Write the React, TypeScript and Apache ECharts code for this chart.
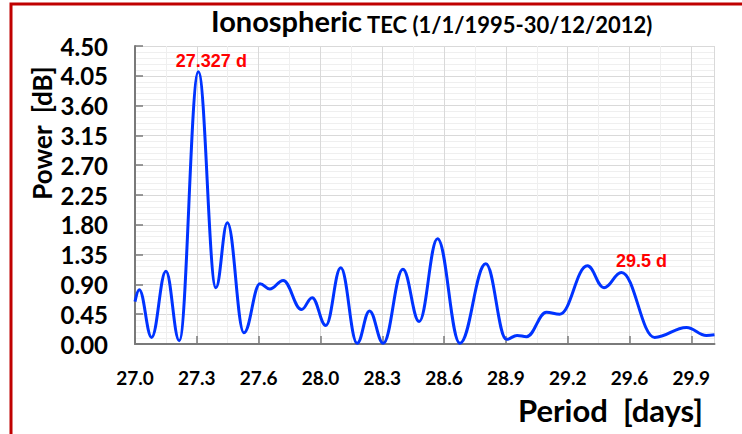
import React, { useEffect, useRef } from "react";
import * as echarts from "echarts";

// Period (days) and power (dB) (extrema + ends)
const periods = [
  27.0, 27.022, 27.086, 27.16, 27.229, 27.328, 27.419, 27.478, 27.564, 27.647,
  27.698, 27.767, 27.862, 27.917, 27.988, 28.065, 28.15, 28.214, 28.285, 28.387,
  28.471, 28.566, 28.682, 28.816, 28.923, 28.978, 29.027, 29.13, 29.199, 29.342,
  29.428, 29.518, 29.69, 29.855, 29.958, 30.0,
];
const power = [
  0.64, 0.82, 0.1, 1.1, 0.05, 4.11, 0.85, 1.83, 0.17, 0.91,
  0.83, 0.96, 0.52, 0.7, 0.28, 1.15, 0.01, 0.5, 0.01, 1.13,
  0.34, 1.59, 0.01, 1.21, 0.07, 0.13, 0.11, 0.48, 0.45, 1.18,
  0.85, 1.08, 0.1, 0.25, 0.13, 0.14,
];
const xMin = 27.0;
const xMax = 30.0;
const xStep = 0.32;
const yMin = 0;
const yMax = 4.5;
const yStep = 0.45;
const annotations = [
  { period: 27.328, power: 4.11, label: "27.327 d" },
  { period: 29.518, power: 1.08, label: "29.5 d" },
];
const titleMain = "Ionospheric";
const titleSub = "TEC (1/1/1995-30/12/2012)";
const xName = "Period  [days]";
const yName = "Power  [dB]";

const FONT = "Lato, 'Open Sans', sans-serif";

export default function App() {
  const ref = useRef<HTMLDivElement>(null);
  useEffect(() => {
    if (!ref.current) return;
    const chart = echarts.init(ref.current, null, { renderer: "svg" });
    const data = periods.map((p, i) => [p, power[i]]);
    const axisColor = "#7a7a7a";
    chart.setOption({
      animation: false,
      backgroundColor: "#ffffff",
      title: {
        left: 206,
        top: -3,
        text: `{a|${titleMain}} {b|${titleSub}}`,
        textStyle: {
          rich: {
            a: { fontFamily: FONT, fontWeight: "bold", fontSize: 29, lineHeight: 33, color: "#000", verticalAlign: "bottom" },
            b: { fontFamily: FONT, fontWeight: "bold", fontSize: 22, lineHeight: 26, color: "#000", verticalAlign: "bottom" },
          },
        },
      },
      grid: { left: 135, right: 27.5, top: 46, bottom: 90, containLabel: false },
      xAxis: {
        type: "value",
        min: xMin,
        max: xMax,
        interval: xStep,
        axisLine: { show: true, lineStyle: { color: axisColor, width: 2 } },
        axisTick: { show: true, inside: true, length: 8, lineStyle: { color: axisColor, width: 1.5 } },
        axisLabel: {
          showMaxLabel: false,
          margin: 24,
          fontFamily: FONT,
          fontWeight: "bold",
          fontSize: 19,
          color: "#000",
          formatter: (v: number) => v.toFixed(1),
        },
        splitLine: { show: true, lineStyle: { color: "#d9d9d9", width: 1 } },
        minorTick: { show: false, splitNumber: 2 },
        minorSplitLine: { show: true, lineStyle: { color: "#efefef", width: 1 } },
      },
      yAxis: {
        type: "value",
        min: yMin,
        max: yMax,
        interval: yStep,
        axisLine: { show: true, lineStyle: { color: axisColor, width: 2 } },
        axisTick: { show: true, inside: true, length: 8, lineStyle: { color: axisColor, width: 1.5 } },
        axisLabel: {
          margin: 27,
          fontFamily: FONT,
          fontWeight: "bold",
          fontSize: 24,
          color: "#000",
          formatter: (v: number) => v.toFixed(2),
        },
        splitLine: { show: true, lineStyle: { color: "#d9d9d9", width: 1 } },
        minorTick: { show: false, splitNumber: 5 },
        minorSplitLine: { show: true, lineStyle: { color: "#efefef", width: 1 } },
      },
      graphic: [
        {
          type: "polyline",
          silent: true,
          shape: { points: [[11, 440], [11, 4], [750, 4]] },
          style: { stroke: "#c00000", lineWidth: 3, fill: "none" },
        },
        {
          type: "text",
          x: 42,
          y: 133,
          rotation: Math.PI / 2,
          style: {
            text: yName,
            fontFamily: FONT,
            fontWeight: "bold",
            fontSize: 26,
            fill: "#000",
            align: "center",
            verticalAlign: "middle",
          },
        },
        {
          type: "text",
          x: 703,
          y: 410,
          style: {
            text: xName,
            fontFamily: FONT,
            fontWeight: "bold",
            fontSize: 31,
            fill: "#000",
            align: "right",
            verticalAlign: "middle",
          },
        },
      ],
      series: [
        {
          type: "line",
          data,
          showSymbol: false,
          smooth: 0.4,
          smoothMonotone: "x",
          lineStyle: { color: "#0033ff", width: 3 },
          itemStyle: { color: "#0033ff" },
          markPoint: {
            symbol: "circle",
            symbolSize: 0,
            silent: true,
            data: annotations.map((a, i) => ({
              coord: [a.period, a.power],
              value: a.label,
              label: {
                show: true,
                formatter: a.label,
                offset: i === 0 ? [13, 3] : [20, 3],
                position: "top",
                color: "#ff0000",
                fontFamily: "'Liberation Sans', Arial, sans-serif",
                fontWeight: "bold",
                fontSize: 18,
              },
            })),
          },
        },
      ],
    });
    return () => chart.dispose();
  }, []);
  return (
    <div
      ref={ref}
      style={{ position: "fixed", left: 0, top: 0, width: 742, height: 434 }}
    />
  );
}
